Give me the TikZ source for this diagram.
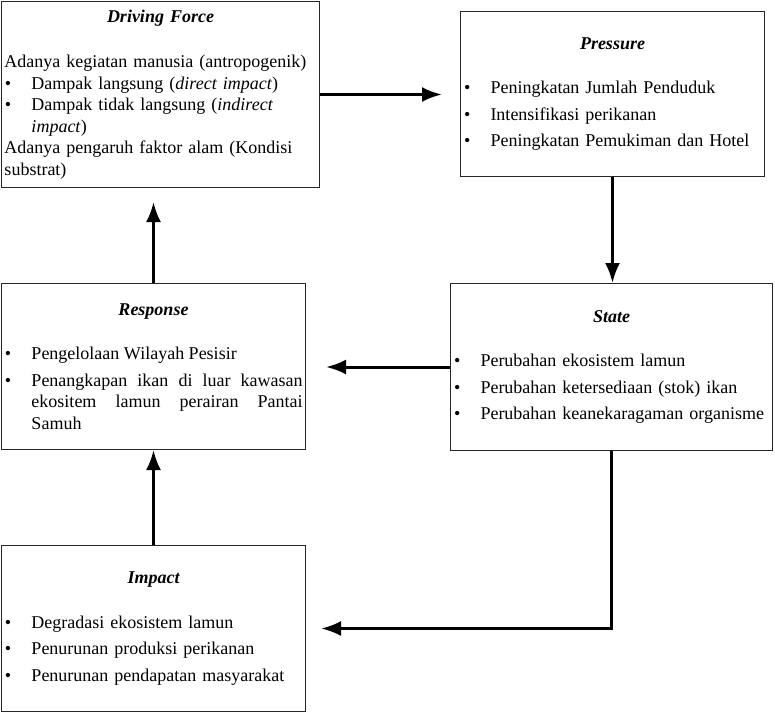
\documentclass[tikz,border=0pt]{standalone}
\usepackage{fontspec}
\setmainfont{Liberation Serif}
\usetikzlibrary{arrows.meta}

\newcommand{\judul}[1]{\centerline{\bfseries\itshape #1}}
\newcommand{\butir}[1]{\par\hangindent=27pt\hangafter=1\noindent\makebox[27pt][l]{\hspace{0.5pt}\textbullet}#1\par}

\tikzset{
	kotak/.style={draw=black!85, line width=1pt, rectangle, anchor=north west, inner xsep=3pt, inner ysep=0pt, align=left,
		font=\fontsize{18}{21.5}\selectfont, execute at begin node={\setlength{\parindent}{0pt}\setlength{\parskip}{#1}}},
	kotak/.default=5pt,
	panah/.style={line width=3pt, -{Latex[length=20pt,width=15pt]}}
}

\begin{document}
\begin{tikzpicture}[x=1pt, y=-1pt]
	\useasboundingbox (0,0) rectangle (775,712);
	\node[kotak=0pt, text width=312pt, minimum height=186pt] (df) at (1,1) {\judul{Driving Force}\vspace{24pt}
		Adanya kegiatan manusia (antropogenik)
		\butir{Dampak langsung (\textit{direct impact})}
		\butir{Dampak tidak langsung (\textit{indirect}\newline\textit{impact})}
		Adanya pengaruh faktor alam (Kondisi\newline substrat)\par};
	\node[kotak, text width=298pt, minimum height=165pt] (pres) at (460,11) {\judul{Pressure}\vspace{18pt}
		\butir{Peningkatan Jumlah Penduduk}
		\butir{Intensifikasi perikanan}
		\butir{Peningkatan Pemukiman dan Hotel}};
	\node[kotak, text width=316pt, minimum height=167pt] (state) at (450,283) {\judul{State}\vspace{18pt}
		\butir{Perubahan ekosistem lamun}
		\butir{Perubahan ketersediaan (stok) ikan}
		\butir{Perubahan keanekaragaman organisme}};
	\node[kotak, text width=298pt, minimum height=166pt, align=justify] (resp) at (1,283) {\judul{Response}\vspace{18pt}
		\butir{Pengelolaan Wilayah Pesisir}
		\butir{Penangkapan ikan di luar kawasan\linebreak ekositem lamun perairan Pantai\linebreak Samuh}};
	\node[kotak, text width=298pt, minimum height=166pt] (imp) at (1,545) {\judul{Impact}\vspace{18pt}
		\butir{Degradasi ekosistem lamun}
		\butir{Penurunan produksi perikanan}
		\butir{Penurunan pendapatan masyarakat}};

	\coordinate (ujung) at ([xshift=-18pt]pres.west);
	\coordinate (atas) at ([yshift=-14pt]df.south);
	\coordinate (kiri) at ([xshift=20pt]resp.east);
	\coordinate (belok) at ([xshift=15pt]imp.east);
	\draw[panah] (df.east) -- (df.east -| ujung);
	\draw[panah] (pres.south) -- (pres.south |- state.north);
	\draw[panah] (state.west) -- (state.west -| kiri);
	\draw[panah] (resp.north) -- (resp.north |- atas);
	\draw[panah] (imp.north) -- (resp.south);
	\draw[panah] (state.south) |- (belok);
\end{tikzpicture}
\end{document}
